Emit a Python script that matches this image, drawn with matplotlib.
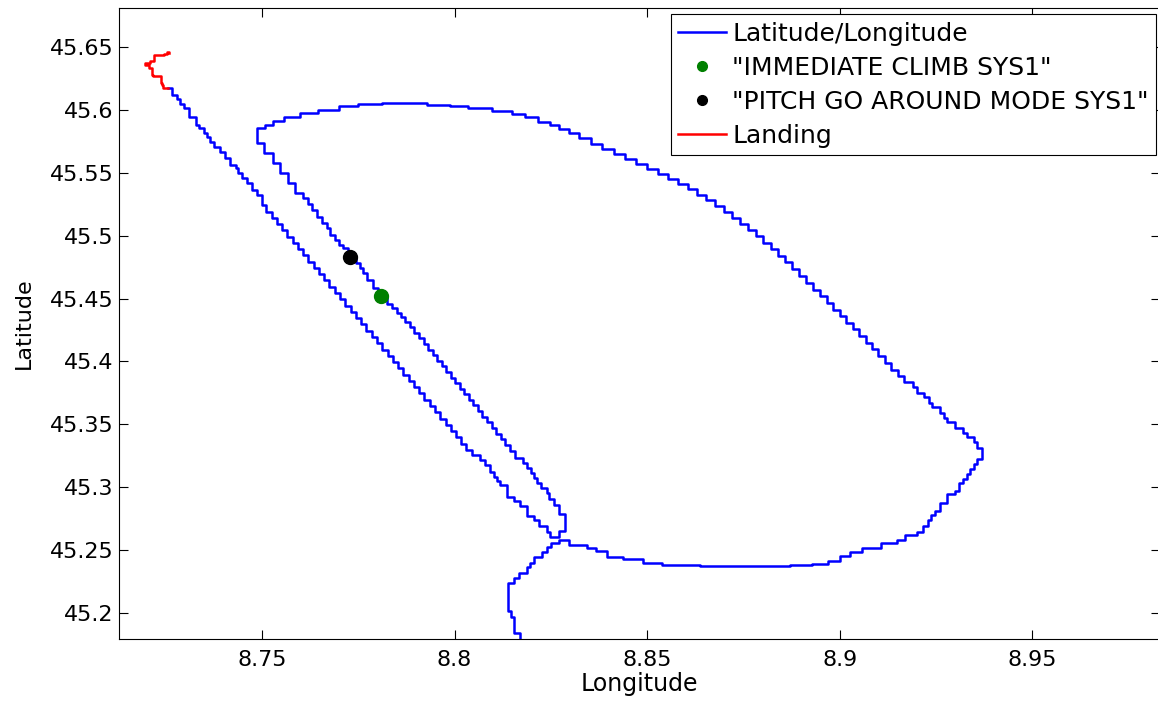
import numpy as np
import matplotlib
matplotlib.use('Agg')
import matplotlib.pyplot as plt
from matplotlib.ticker import FormatStrFormatter

# ---- data (longitude, latitude) ----
# climb out from the south, bottom of the loop, east turn
approach_lon = [8.8170, 8.8170, 8.8155, 8.8147, 8.8138, 8.8155, 8.8168, 8.8188, 8.8196, 8.8205,
                8.8227, 8.8240, 8.8250, 8.8270, 8.8296, 8.8344, 8.8367, 8.8395, 8.8437, 8.8489,
                8.8539, 8.8638, 8.8871, 8.8929, 8.8970, 8.9001,
                8.9027, 8.9059, 8.9108, 8.9149, 8.9170, 8.9201, 8.9216, 8.9229, 8.9238, 8.9248,
                8.9261, 8.9278, 8.9300, 8.9309, 8.9320, 8.9330, 8.9339, 8.9348, 8.9356, 8.9371]
approach_lat = [45.1701, 45.1839, 45.1967, 45.2014, 45.2232, 45.2272, 45.2317, 45.2360, 45.2392, 45.2440,
                45.2484, 45.2524, 45.2556, 45.2577, 45.2537, 45.2511, 45.2490, 45.2444, 45.2424, 45.2392,
                45.2381, 45.2370, 45.2376, 45.2389, 45.2410, 45.2450,
                45.2484, 45.2516, 45.2551, 45.2577, 45.2617, 45.2643, 45.2689, 45.2736, 45.2776, 45.2811,
                45.2869, 45.2944, 45.2970, 45.3029, 45.3063, 45.3100, 45.3140, 45.3180, 45.3220, 45.3307]

# north-east side of the loop, flown to the north-west
loop_ne_lon = [8.9356, 8.9348, 8.9330, 8.9320, 8.9300, 8.9280, 8.9270, 8.9261, 8.9240, 8.9231,
               8.9218, 8.9201, 8.9190,
               8.9168, 8.9152, 8.9134, 8.9118, 8.9100, 8.9085, 8.9069, 8.9051, 8.9035, 8.9017,
               8.9001, 8.8983, 8.8966, 8.8949, 8.8931, 8.8913, 8.8895, 8.8877, 8.8859, 8.8841,
               8.8822, 8.8801, 8.8783, 8.8762, 8.8742, 8.8721, 8.8700, 8.8677, 8.8653, 8.8630,
               8.8607, 8.8581, 8.8555, 8.8529, 8.8500, 8.8471, 8.8443, 8.8414, 8.8383, 8.8355]
loop_ne_lat = [45.3360, 45.3400, 45.3432, 45.3467, 45.3519, 45.3546, 45.3592, 45.3634, 45.3670, 45.3713,
               45.3750, 45.3798, 45.3838,
               45.3883, 45.3931, 45.3987, 45.4042, 45.4098, 45.4146, 45.4201, 45.4257, 45.4305, 45.4361,
               45.4408, 45.4464, 45.4520, 45.4568, 45.4623, 45.4679, 45.4735, 45.4791, 45.4838, 45.4894,
               45.4942, 45.4998, 45.5045, 45.5093, 45.5141, 45.5189, 45.5236, 45.5284, 45.5324, 45.5372,
               45.5412, 45.5451, 45.5491, 45.5531, 45.5570, 45.5610, 45.5650, 45.5690, 45.5730, 45.5778]

# top of the loop
loop_top_lon = [8.8324, 8.8298, 8.8270, 8.8248, 8.8217, 8.8183, 8.8148, 8.8097, 8.8036, 8.7988,
                8.7928, 8.7811, 8.7750, 8.7700, 8.7646, 8.7599, 8.7558, 8.7528, 8.7508, 8.7486]
loop_top_lat = [45.5815, 45.5847, 45.5881, 45.5903, 45.5943, 45.5969, 45.5995, 45.6014, 45.6033, 45.6043,
                45.6054, 45.6046, 45.6035, 45.6001, 45.5975, 45.5948, 45.5916, 45.5881, 45.5855, 45.5736]

# inner leg, flown to the south-east
inner_lon = [8.7506, 8.7528, 8.7547, 8.7568, 8.7586, 8.7607, 8.7618, 8.7629, 8.7643, 8.7655,
             8.7668, 8.7676, 8.7689, 8.7700, 8.7711, 8.7724, 8.7744, 8.7754, 8.7763, 8.7772,
             8.7787, 8.7802, 8.7824, 8.7837, 8.7850, 8.7860, 8.7871, 8.7884,
             8.7895, 8.7908, 8.7921, 8.7932, 8.7945, 8.7955, 8.7968, 8.7978, 8.7991, 8.8001,
             8.8014, 8.8024, 8.8037, 8.8048, 8.8060, 8.8071, 8.8084, 8.8097, 8.8107, 8.8120,
             8.8131, 8.8144,
             8.8157, 8.8177, 8.8187, 8.8198, 8.8205, 8.8215, 8.8224, 8.8240, 8.8246, 8.8257,
             8.8270, 8.8287, 8.8270]
inner_lat = [45.5656, 45.5581, 45.5502, 45.5422, 45.5342, 45.5298, 45.5252, 45.5205, 45.5151, 45.5099,
             45.5059, 45.5006, 45.4966, 45.4926, 45.4900, 45.4833, 45.4785, 45.4740, 45.4701, 45.4647,
             45.4581, 45.4514, 45.4456, 45.4422, 45.4382, 45.4350, 45.4315, 45.4276,
             45.4225, 45.4186, 45.4138, 45.4090, 45.4050, 45.4002, 45.3962, 45.3914, 45.3866, 45.3827,
             45.3779, 45.3739, 45.3692, 45.3652, 45.3604, 45.3556, 45.3516, 45.3469, 45.3421, 45.3381,
             45.3334, 45.3286,
             45.3228, 45.3188, 45.3148, 45.3108, 45.3069, 45.3029, 45.2989, 45.2949, 45.2901, 45.2856,
             45.2782, 45.2651, 45.2603]

# final approach, flown to the north-west
final_lon = [8.8248, 8.8240, 8.8218, 8.8205, 8.8188, 8.8170, 8.8155, 8.8137, 8.8118, 8.8110,
             8.8101, 8.8091, 8.8078, 8.8067, 8.8045,
             8.8030, 8.8017, 8.8004, 8.7991, 8.7978, 8.7962, 8.7949, 8.7936, 8.7921, 8.7908,
             8.7895, 8.7882, 8.7866, 8.7853, 8.7840, 8.7827, 8.7812, 8.7799, 8.7786, 8.7770,
             8.7757, 8.7744, 8.7731, 8.7716, 8.7702, 8.7689, 8.7674, 8.7661, 8.7648, 8.7635,
             8.7620, 8.7606, 8.7593, 8.7580, 8.7565, 8.7552, 8.7539, 8.7526, 8.7511,
             8.7499, 8.7486, 8.7473, 8.7460, 8.7449, 8.7438, 8.7433, 8.7417, 8.7404, 8.7391,
             8.7376, 8.7365, 8.7358, 8.7348, 8.7337, 8.7329, 8.7309, 8.7297, 8.7288, 8.7278,
             8.7265, 8.7256]
final_lat = [45.2643, 45.2689, 45.2736, 45.2768, 45.2848, 45.2890, 45.2922, 45.3015, 45.3049, 45.3081,
             45.3121, 45.3174, 45.3214, 45.3254, 45.3294,
             45.3342, 45.3397, 45.3445, 45.3492, 45.3540, 45.3596, 45.3644, 45.3692, 45.3748, 45.3795,
             45.3843, 45.3891, 45.3947, 45.3994, 45.4042, 45.4090, 45.4146, 45.4193, 45.4241, 45.4297,
             45.4345, 45.4392, 45.4440, 45.4496, 45.4544, 45.4592, 45.4647, 45.4695, 45.4743, 45.4791,
             45.4847, 45.4894, 45.4942, 45.4990, 45.5045, 45.5093, 45.5141, 45.5189, 45.5244,
             45.5324, 45.5364, 45.5417, 45.5457, 45.5497, 45.5536, 45.5563, 45.5616, 45.5669, 45.5709,
             45.5749, 45.5788, 45.5820, 45.5855, 45.5881, 45.5948, 45.6014, 45.6049, 45.6086, 45.6120,
             45.6174, 45.6174]

landing_lon = [8.7256, 8.7243, 8.7239, 8.7238, 8.7216, 8.7214, 8.7207, 8.7196, 8.7209, 8.7218,
               8.7244, 8.7253, 8.7258]
landing_lat = [45.6174, 45.6200, 45.6213, 45.6272, 45.6280, 45.6333, 45.6359, 45.6378, 45.6391, 45.6439,
               45.6447, 45.6463, 45.6452]

climb_lon, climb_lat = [8.7809], [45.4520]   # "IMMEDIATE CLIMB SYS1"
pitch_lon, pitch_lat = [8.7727], [45.4828]   # "PITCH GO AROUND MODE SYS1"

track_lon = np.concatenate([approach_lon, loop_ne_lon, loop_top_lon, inner_lon, final_lon])
track_lat = np.concatenate([approach_lat, loop_ne_lat, loop_top_lat, inner_lat, final_lat])

plt.rcParams['font.family'] = ['DejaVu Sans']

fig = plt.figure(figsize=(11.58, 7.04), dpi=100)
ax = fig.add_axes([0.1030, 0.0923, 0.8987, 0.8963])

ax.plot(track_lon, track_lat, color='blue', linewidth=1.8, drawstyle='steps-post',
        label='Latitude/Longitude')
ax.plot(climb_lon, climb_lat, 'o', color='green', markersize=10, label='"IMMEDIATE CLIMB SYS1"')
ax.plot(pitch_lon, pitch_lat, 'o', color='black', markersize=10,
        label='"PITCH GO AROUND MODE SYS1"')
ax.plot(landing_lon, landing_lat, color='red', linewidth=1.8, drawstyle='steps-post', label='Landing')

ax.set_xlim(8.7129, 8.9832)
ax.set_ylim(45.1789, 45.6813)
ax.set_xticks([8.75, 8.8, 8.85, 8.9, 8.95])
ax.set_yticks([45.2, 45.25, 45.3, 45.35, 45.4, 45.45, 45.5, 45.55, 45.6, 45.65])
ax.xaxis.set_major_formatter(FormatStrFormatter('%g'))
ax.yaxis.set_major_formatter(FormatStrFormatter('%g'))
ax.tick_params(direction='in', length=6.5, width=0.8, top=True, right=True, labelsize=16)
ax.tick_params(axis='x', pad=8)
ax.tick_params(axis='y', pad=4)

ax.set_xlabel('Longitude', fontsize=17, labelpad=1)
ax.set_ylabel('Latitude', fontsize=16)
ax.yaxis.set_label_coords(-0.082, 0.5)

leg = ax.legend(loc='upper right', bbox_to_anchor=(0.9962, 0.9905), borderaxespad=0,
                fontsize=18, fancybox=False, framealpha=1, edgecolor='black',
                handlelength=1.9, handletextpad=0.25, labelspacing=0.4, borderpad=0.3,
                markerscale=0.7)
leg.get_frame().set_linewidth(0.8)

fig.savefig('out.png', dpi=100)
